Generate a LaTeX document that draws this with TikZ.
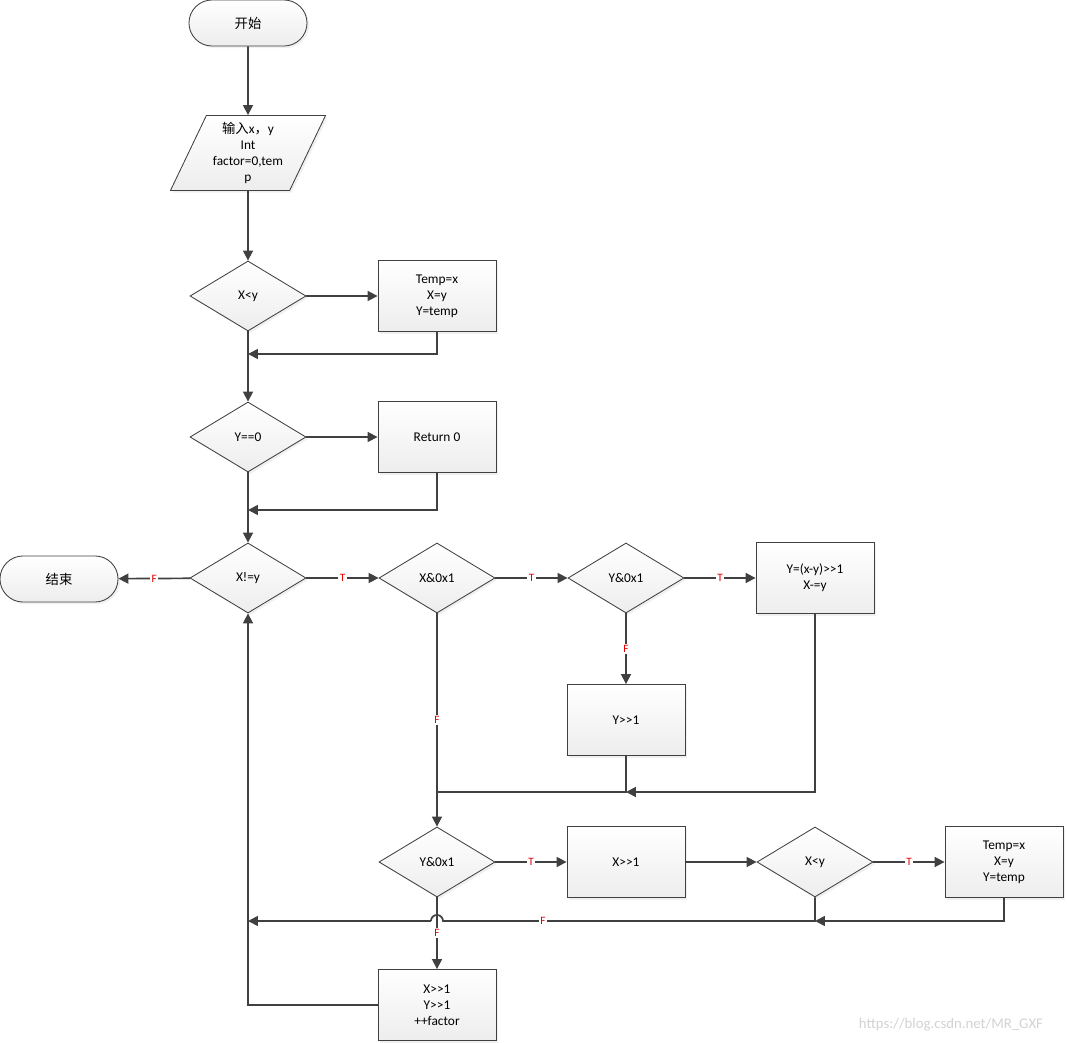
\documentclass[tikz,border=0pt]{standalone}
\usepackage{fontspec}
\setmainfont{Carlito}
\newfontfamily\cjk{Noto Sans CJK SC}
\usepackage{tikz}
\usetikzlibrary{shapes.geometric, arrows.meta, positioning, shadows}
\definecolor{edge}{HTML}{404040}

\begin{document}
\begin{tikzpicture}[
    x=0.025cm, y=-0.025cm,
    base/.style={
        draw=edge, line width=0.6pt, top color=white, bottom color=gray!14,
        drop shadow={opacity=0.12, shadow xshift=1.5pt, shadow yshift=-1.5pt},
        align=center, font=\fontsize{9.5}{11.5}\selectfont, inner sep=1pt
    },
    term/.style={base, rectangle, rounded corners=0.575cm,
        minimum width=2.95cm, minimum height=1.15cm},
    io/.style={base, trapezium, trapezium left angle=61, trapezium right angle=119,
        trapezium stretches body, minimum width=3.875cm, minimum height=1.875cm},
    decide/.style={base, diamond, aspect=1.66, minimum width=2.9cm, minimum height=1.75cm},
    proc/.style={base, rectangle, minimum width=2.95cm, minimum height=1.775cm},
    arr/.style={-{Triangle[length=7pt, width=7pt]}, line width=1.2pt, edge},
    plain/.style={line width=1.2pt, edge},
    lbl/.style={font=\fontsize{8}{9}\selectfont, text=red!90!black, fill=white, inner sep=1pt}
]
    \useasboundingbox (0,0) rectangle (1067,1043);

    %% --- Main column ---
    \node[term] (start) at (248,23) {\cjk 开始};
    \node[io] (input) at (248,153) {{\cjk 输入}x{\cjk ，}y\\Int\\factor=0,tem\\p};
    \node[decide] (cmp) at (248,296) {X<y};
    \node[proc] (swap) at (437,296) {Temp=x\\X=y\\Y=temp};
    \node[decide] (yzero) at (248,437) {Y==0};
    \node[proc] (ret) at (437,437) {Return 0};
    \node[decide] (loop) at (248,578) {X!=y};
    \node[term] (stop) at (59,579) {\cjk 结束};

    %% --- Loop body ---
    \node[decide] (xodd) at (437,578) {X\&0x1};
    \node[decide] (yodd) at (626,578) {Y\&0x1};
    \node[proc] (both) at (815,578) {Y=(x-y)>{}>1\\X-=y};
    \node[proc] (yhalf) at (626,720) {Y>{}>1};
    \node[decide] (yodd2) at (437,862) {Y\&0x1};
    \node[proc] (xhalf) at (626,862) {X>{}>1};
    \node[decide] (cmp2) at (815,862) {X<y};
    \node[proc] (swap2) at (1004,862) {Temp=x\\X=y\\Y=temp};
    \node[proc] (shiftall) at (437,1005) {X>{}>1\\Y>{}>1\\++factor};

    %% --- Junctions ---
    \coordinate (m1) at (248,354);
    \coordinate (m2) at (248,510);
    \coordinate (m3) at (626,792);
    \coordinate (m4) at (437,792);
    \coordinate (m5) at (815,921);
    \coordinate (m6) at (248,921);
    \coordinate (hopR) at (443,921);
    \coordinate (hopL) at (431,921);

    %% --- Arrows ---
    \draw[arr] (start) -- (input);
    \draw[arr] (input) -- (cmp);
    \draw[arr] (cmp) -- (swap);
    \draw[arr] (swap.south) |- (m1);
    \draw[arr] (cmp) -- (yzero);
    \draw[arr] (yzero) -- (ret);
    \draw[arr] (ret.south) |- (m2);
    \draw[arr] (yzero) -- (loop);
    \draw[arr] (loop) -- node[lbl] {F} (stop);
    \draw[arr] (loop) -- node[lbl] {T} (xodd);
    \draw[arr] (xodd) -- node[lbl] {T} (yodd);
    \draw[arr] (yodd) -- node[lbl] {T} (both);
    \draw[arr] (yodd) -- node[lbl] {F} (yhalf);
    \draw[arr] (both.south) |- (m3);
    \draw[plain] (yhalf) -- (m3) -- (m4);
    \draw[arr] (xodd) -- node[lbl] {F} (yodd2);
    \draw[arr] (yodd2) -- node[lbl] {T} (xhalf);
    \draw[arr] (xhalf) -- (cmp2);
    \draw[arr] (cmp2) -- node[lbl] {T} (swap2);
    \draw[arr] (swap2.south) |- (m5);
    \draw[plain] (cmp2) -- (m5) -- (hopR) arc[start angle=0, end angle=180, radius=4.3pt];
    \draw[arr] (hopL) -- (m6);
    \node[lbl] at (543,921) {F};
    \draw[arr] (yodd2) -- node[lbl] {F} (shiftall);
    \draw[arr] (shiftall.west) -| (loop.south);

    %% --- Watermark ---
    \node[text=gray!35, font=\fontsize{10.5}{12}\selectfont] at (951,1025) {https://blog.csdn.net/MR\_GXF};
\end{tikzpicture}
\end{document}
